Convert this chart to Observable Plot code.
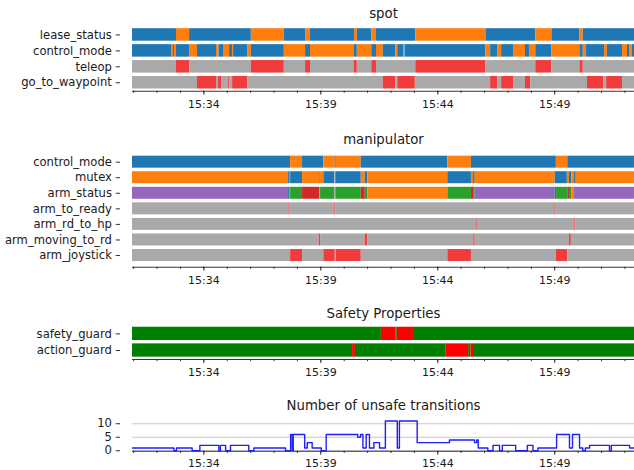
<!DOCTYPE html>
<html><head><meta charset="utf-8">
<script src="https://cdn.jsdelivr.net/npm/d3@7"></script>
<script src="https://cdn.jsdelivr.net/npm/@observablehq/plot@0.6"></script>
<style>
body{margin:0;background:#fff;}
#chart{position:relative;width:634px;height:470px;overflow:hidden;font-family:"DejaVu Sans",sans-serif;}
#chart svg{position:absolute;left:0;}
</style></head><body><div id="chart"></div>
<script>
// time = minutes after 15:00
const T0 = 30.95, T1 = 52.41;
const majorTickLabels = ["15:34","15:39","15:44","15:49"];

const spotRows = ["lease_status","control_mode","teleop","go_to_waypoint"];
const spotLeaseStatus = [[30.95,"blue"],[32.83,"orange"],[33.39,"blue"],[36.03,"orange"],[37.44,"blue"],[38.35,"orange"],[38.56,"blue"],[40.44,"orange"],[40.56,"blue"],[41.18,"orange"],[41.38,"blue"],[43.06,"orange"],[46.06,"blue"],[48.19,"orange"],[48.88,"blue"],[50.08,"orange"],[50.22,"blue"]];
const spotControlMode = [[30.95,"blue"],[32.62,"orange"],[32.70,"blue"],[32.75,"orange"],[32.83,"blue"],[33.39,"orange"],[33.73,"blue"],[34.54,"orange"],[34.62,"gray"],[34.65,"blue"],[34.84,"orange"],[35.10,"blue"],[35.23,"orange"],[35.27,"blue"],[35.87,"orange"],[36.03,"blue"],[37.44,"orange"],[38.35,"blue"],[38.56,"orange"],[40.44,"blue"],[40.56,"orange"],[41.18,"blue"],[41.38,"orange"],[41.67,"blue"],[42.21,"orange"],[42.29,"blue"],[42.56,"gray"],[42.60,"blue"],[46.06,"orange"],[46.26,"blue"],[46.56,"orange"],[46.73,"blue"],[47.24,"orange"],[47.75,"blue"],[47.92,"orange"],[48.19,"blue"],[48.88,"orange"],[50.08,"blue"],[50.22,"orange"],[50.36,"blue"],[51.13,"orange"],[51.25,"blue"],[51.90,"orange"],[52.11,"blue"],[52.22,"orange"],[52.32,"blue"]];
const spotTeleop = [[30.95,"gray"],[32.83,"alert"],[33.39,"gray"],[36.03,"alert"],[37.44,"gray"],[38.35,"alert"],[38.56,"gray"],[40.44,"alert"],[40.56,"gray"],[41.18,"alert"],[41.38,"gray"],[43.06,"alert"],[46.06,"gray"],[48.19,"alert"],[48.88,"gray"],[50.08,"alert"],[50.22,"gray"]];
const spotGoToWaypoint = [[30.95,"gray"],[33.73,"alert"],[34.54,"gray"],[34.63,"alert"],[34.76,"gray"],[35.06,"alert"],[35.10,"gray"],[35.23,"alert"],[35.87,"gray"],[41.67,"alert"],[42.21,"gray"],[42.29,"alert"],[43.04,"gray"],[46.26,"alert"],[46.56,"gray"],[46.73,"alert"],[47.24,"gray"],[47.75,"alert"],[47.97,"gray"],[50.40,"alert"],[51.09,"gray"],[51.22,"alert"],[51.90,"gray"]];

const manipRows = ["control_mode","mutex","arm_status","arm_to_ready","arm_rd_to_hp","arm_moving_to_rd","arm_joystick"];
const manipControlMode = [[30.95,"blue"],[37.71,"orange"],[38.22,"blue"],[39.13,"orange"],[39.62,"blue"],[39.66,"orange"],[40.73,"blue"],[44.43,"orange"],[45.44,"blue"],[49.07,"orange"],[49.56,"blue"]];
const manipMutex = [[30.95,"orange"],[37.62,"blue"],[37.66,"orange"],[37.71,"blue"],[38.22,"orange"],[38.95,"blue"],[38.98,"orange"],[39.13,"blue"],[39.60,"gray"],[39.64,"blue"],[40.73,"orange"],[40.90,"blue"],[41.01,"orange"],[44.43,"blue"],[45.44,"orange"],[45.53,"blue"],[45.60,"orange"],[49.02,"blue"],[49.54,"orange"],[49.63,"blue"],[49.73,"orange"],[49.85,"blue"],[49.92,"orange"]];
const manipArmStatus = [[30.95,"purple"],[37.62,"blue"],[37.66,"orange"],[37.71,"green"],[38.22,"red"],[38.95,"orange"],[38.99,"green"],[39.60,"gray"],[39.64,"green"],[40.73,"red"],[40.90,"green"],[41.01,"orange"],[44.43,"green"],[45.44,"red"],[45.53,"green"],[45.60,"purple"],[49.02,"blue"],[49.08,"green"],[49.56,"red"],[49.63,"green"],[49.73,"orange"],[49.85,"purple"]];
const manipArmToReady = [[30.95,"gray"],[37.60,"alert"],[37.65,"gray"],[39.60,"alert"],[39.65,"gray"],[48.97,"alert"],[49.02,"gray"]];
const manipArmRdToHp = [[30.95,"gray"],[45.64,"alert"],[45.69,"gray"],[49.86,"alert"],[49.91,"gray"]];
const manipArmMovingToRd = [[30.95,"gray"],[38.93,"alert"],[38.99,"gray"],[40.90,"alert"],[41.01,"gray"],[45.54,"alert"],[45.60,"gray"],[49.63,"alert"],[49.71,"gray"]];
const manipArmJoystick = [[30.95,"gray"],[37.71,"alert"],[38.22,"gray"],[39.13,"alert"],[39.62,"gray"],[39.66,"alert"],[40.73,"gray"],[44.43,"alert"],[45.44,"gray"],[49.07,"alert"],[49.56,"gray"]];

const safetyRows = ["safety_guard","action_guard"];
const safetyGuard = [[30.95,"ok"],[41.59,"bad"],[42.22,"ok"],[42.27,"bad"],[42.96,"ok"]];
const actionGuard = [[30.95,"ok"],[40.36,"bad"],[40.48,"ok"],[44.34,"bad"],[45.32,"ok"],[45.42,"bad"],[45.57,"ok"]];

const unsafeTicks = [0, 5, 10];
const unsafeCount = [[30.95,1],[32.72,0],[32.83,1],[33.50,0],[33.83,2],[34.64,0],[34.71,2],[34.93,0],[35.14,2],[35.92,0],[36.14,1],[37.49,0],[37.71,6],[37.78,0],[37.82,6],[38.31,1],[38.42,3],[38.63,1],[39.02,0],[39.23,6],[40.58,5],[40.70,6],[40.80,1],[40.94,6],[41.08,1],[41.27,3],[41.51,1],[41.76,11],[42.27,1],[42.36,11],[43.12,3],[44.50,4],[45.57,3],[45.66,4],[45.73,1],[46.14,0],[46.36,2],[46.64,0],[46.76,2],[47.33,0],[47.83,2],[48.07,0],[48.28,1],[49.08,6],[49.63,1],[49.76,6],[50.06,1],[50.20,0],[50.31,1],[50.49,2],[51.34,0],[51.42,2],[52.20,1]];

const palette = {blue:"#1f77b4", orange:"#ff7f0e", purple:"#9467bd", green:"#2ca02c", red:"#d62728", gray:"#a9a9a9", alert:"#f03c3c", ok:"#008000", bad:"#ff0000"};

const base = new Date(2020, 0, 1, 15, 0, 0).getTime();
const toDate = m => new Date(base + m * 60000);
const majorTicks = majorTickLabels.map(s => { const [h, mm] = s.split(":").map(Number); return new Date(2020, 0, 1, h, mm); });
const minorTicks = d3.timeMinute.range(toDate(T0), toDate(T1));
const fmt = d3.timeFormat("%H:%M");
const TEXT = "#1a1a1a";
const style = {fontFamily: "DejaVu Sans", fontSize: "11px", color: TEXT, background: "transparent", overflow: "visible"};

function xAxisMarks(yBottom, pad = 5) {
  return [
    Plot.ruleY([yBottom], {stroke: "#333", strokeWidth: 1.1}),
    Plot.axisX({ticks: minorTicks, tickSize: 2.2, tickFormat: () => "", stroke: "#333"}),
    Plot.axisX({ticks: majorTicks, tickSize: 4, tickPadding: pad, tickFormat: fmt, stroke: "#333", fill: TEXT, fontSize: 11})
  ];
}
function yAxisMark(ticks, format) {
  return Plot.axisY({ticks, tickFormat: format, tickSize: 4.3, tickPadding: 4.3, dx: -12, stroke: "#333", fill: TEXT, fontSize: 11.6});
}
function titleMark(title, dy) {
  return Plot.text([title], {text: d => d, frameAnchor: "top", lineAnchor: "middle", dy, fontSize: 13.3, fill: TEXT});
}

function segmentsOf(series) {
  const out = [];
  series.forEach((changes, i) => changes.forEach(([m, s], j) => {
    const end = j + 1 < changes.length ? changes[j + 1][0] : T1;
    out.push({row: i, x1: toDate(m), x2: toDate(end), fill: palette[s]});
  }));
  return out;
}

function timeline({top, marginTop, plotH, marginBottom, rows, series, title, h, pad, titleDy}) {
  const n = rows.length;
  const yDomain = [n - 1 + 0.5 + pad, -0.5 - pad];
  const segs = segmentsOf(series);
  const svg = Plot.plot({
    width: 634, height: marginTop + plotH + marginBottom,
    marginLeft: 132, marginRight: 0, marginTop, marginBottom,
    style,
    x: {type: "time", domain: [toDate(T0), toDate(T1)], label: null},
    y: {domain: yDomain, label: null},
    color: {type: "identity"},
    marks: [
      Plot.rect(segs, {x1: "x1", x2: "x2", y1: d => d.row - h / 2, y2: d => d.row + h / 2, fill: "fill"}),
      ...xAxisMarks(yDomain[0]),
      yAxisMark(d3.range(n), i => rows[i]),
      titleMark(title, titleDy)
    ]
  });
  svg.style.top = top + "px";
  document.getElementById("chart").append(svg);
}

timeline({top: 0, marginTop: 26, plotH: 64.7, marginBottom: 20.3, rows: spotRows,
  series: [spotLeaseStatus, spotControlMode, spotTeleop, spotGoToWaypoint],
  title: "spot", h: 0.786, pad: 0.03, titleDy: -12.5});

timeline({top: 111, marginTop: 39, plotH: 116.7, marginBottom: 20, rows: manipRows,
  series: [manipControlMode, manipMutex, manipArmStatus, manipArmToReady, manipArmRdToHp, manipArmMovingToRd, manipArmJoystick],
  title: "manipulator", h: 0.77, pad: 0.25, titleDy: -11});

timeline({top: 287, marginTop: 37.4, plotH: 34.6, marginBottom: 20, rows: safetyRows,
  series: [safetyGuard, actionGuard],
  title: "Safety Properties", h: 0.8, pad: 0.04, titleDy: -11.4});

// unsafe transitions panel
{
  const top = 379, marginTop = 40.2, plotH = 31.6, marginBottom = 19.2;
  const yDomain = [-0.2, 11.5];
  const pts = unsafeCount.map(([m, v]) => ({t: toDate(m), v}));
  pts.push({t: toDate(T1), v: unsafeCount[unsafeCount.length - 1][1]});
  const svg = Plot.plot({
    width: 634, height: marginTop + plotH + marginBottom,
    marginLeft: 132, marginRight: 0, marginTop, marginBottom,
    style,
    x: {type: "time", domain: [toDate(T0), toDate(T1)], label: null},
    y: {domain: yDomain, label: null},
    marks: [
      Plot.gridY(unsafeTicks, {stroke: "#c8c8c8", strokeOpacity: 1, strokeWidth: 1}),
      ...xAxisMarks(yDomain[0], 3.5),
      Plot.line(pts, {x: "t", y: "v", curve: "step-after", stroke: "#1e1eff", strokeWidth: 1.4}),
      yAxisMark(unsafeTicks, d => String(d)),
      titleMark("Number of unsafe transitions", -14.2)
    ]
  });
  svg.style.top = top + "px";
  document.getElementById("chart").append(svg);
}
</script></body></html>
